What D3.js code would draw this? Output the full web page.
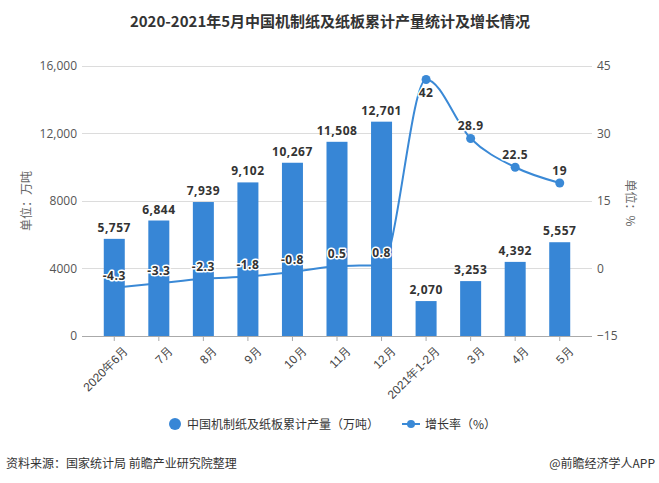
<!DOCTYPE html>
<html><head><meta charset="utf-8">
<script src="https://cdn.jsdelivr.net/npm/d3@7"></script>
<style>
html,body{margin:0;padding:0;background:#fff;}
svg{display:block;font-family:"Noto Sans CJK SC","Noto Sans",sans-serif;}
</style></head>
<body>
<svg id="chart" width="659" height="483"></svg>
<script>
const categories = ["2020年6月","7月","8月","9月","10月","11月","12月","2021年1-2月","3月","4月","5月"];
const production = [5757,6844,7939,9102,10267,11508,12701,2070,3253,4392,5557];
const growth = [-4.3,-3.3,-2.3,-1.8,-0.8,0.5,0.8,42,28.9,22.5,19];
const leftTicks = [0,4000,8000,12000,16000];
const leftTickLabels = ["0","4000","8000","12,000","16,000"];
const rightTicks = [-15,0,15,30,45];
const growthLabelBelow = [false,false,false,false,false,false,false,true,false,false,false];

const title = "2020-2021年5月中国机制纸及纸板累计产量统计及增长情况";
const seriesNames = ["中国机制纸及纸板累计产量（万吨）","增长率（%）"];
const source = "资料来源：国家统计局 前瞻产业研究院整理";
const credit = "@前瞻经济学人APP";

const barColor = "#3786d6", lineColor = "#3a89d6";
const svg = d3.select("#chart");
const L = 82, R = 592, T = 66, B = 336;

const x = d3.scaleBand().domain(categories).range([L+10, R-10]);
const yL = d3.scaleLinear().domain([0,16000]).range([B,T]);
const yR = d3.scaleLinear().domain([-15,45]).range([B,T]);

// title
svg.append("text").attr("x",330).attr("y",27).attr("text-anchor","middle")
  .attr("font-size",15).attr("font-weight","bold").attr("fill","#333").text(title);

// gridlines
svg.append("g").selectAll("line").data(leftTicks.slice(1)).join("line")
  .attr("x1",L).attr("x2",R).attr("y1",d=>yL(d)).attr("y2",d=>yL(d))
  .attr("stroke","#dcdcdc").attr("stroke-width",1).attr("shape-rendering","crispEdges");

// left axis
const gl = svg.append("g").attr("transform",`translate(${L},0)`)
  .call(d3.axisLeft(yL).tickValues(leftTicks).tickSize(0).tickPadding(5)
    .tickFormat((d,i)=>leftTickLabels[i]));
gl.select(".domain").remove();
gl.selectAll("text").attr("font-size",12).attr("fill","#555").style("font-family","'Open Sans','Noto Sans',sans-serif");

// right axis
const gr = svg.append("g").attr("transform",`translate(${R},0)`)
  .call(d3.axisRight(yR).tickValues(rightTicks).tickSize(0).tickPadding(5));
gr.select(".domain").remove();
gr.selectAll("text").attr("font-size",12).attr("fill","#555").style("font-family","'Open Sans','Noto Sans',sans-serif");

// axis titles
svg.append("text").attr("transform","translate(31,201) rotate(-90)").attr("text-anchor","middle")
  .attr("font-size",12).attr("fill","#666").text("单位：万吨");
svg.append("text").attr("transform","translate(626,203) rotate(90)").attr("text-anchor","middle")
  .attr("font-size",12).attr("fill","#666").text("单位：%");

// line (behind bars)
const cx = d => x(d) + x.bandwidth()/2;
const line = d3.line().x((d,i)=>cx(categories[i])).y(d=>yR(d)).curve(d3.curveMonotoneX);
svg.append("path").datum(growth).attr("d",line).attr("fill","none")
  .attr("stroke",lineColor).attr("stroke-width",2);
svg.append("g").selectAll("circle").data(growth).join("circle")
  .attr("cx",(d,i)=>cx(categories[i])).attr("cy",d=>yR(d)).attr("r",4.5)
  .attr("fill",lineColor);

// bars
const bw = 21;
svg.append("g").selectAll("rect").data(production).join("rect")
  .attr("x",(d,i)=>cx(categories[i])-bw/2).attr("width",bw)
  .attr("y",d=>yL(d)).attr("height",d=>B-yL(d)).attr("fill",barColor);

// x axis
const gx = svg.append("g").attr("transform",`translate(0,${B})`)
  .call(d3.axisBottom(x).tickSize(5).tickPadding(3));
gx.select(".domain").attr("d",`M${L},0.5H${R}`).attr("stroke","#aaa");
gx.selectAll(".tick line").attr("stroke","#aaa");
gx.selectAll("text").attr("font-size",12).attr("fill","#444")
  .attr("text-anchor","end").attr("transform","translate(3,4) rotate(-45)")
  .attr("dy","0.7em");

// bar labels
svg.append("g").selectAll("text").data(production).join("text")
  .attr("x",(d,i)=>cx(categories[i])).attr("y",d=>yL(d)-7).attr("text-anchor","middle")
  .attr("font-size",12).attr("font-weight","bold").attr("fill","#333")
  .style("font-family","'Open Sans','Noto Sans',sans-serif").style("letter-spacing","0.5px")
  .text(d=>d3.format(",")(d));

// growth labels with white halo
svg.append("g").selectAll("text").data(growth).join("text")
  .attr("x",(d,i)=>cx(categories[i])).attr("y",(d,i)=>growthLabelBelow[i]? yR(d)+17 : yR(d)-8)
  .attr("text-anchor","middle").attr("font-size",12).attr("font-weight","bold").attr("fill","#333")
  .style("font-family","'Open Sans','Noto Sans',sans-serif").style("letter-spacing","0.5px")
  .attr("stroke","#fff").attr("stroke-width",3).attr("paint-order","stroke").attr("stroke-linejoin","round")
  .text(d=>d);

// legend
const lg = svg.append("g");
lg.append("circle").attr("cx",175).attr("cy",424).attr("r",6).attr("fill",barColor);
lg.append("text").attr("x",187).attr("y",428.5).attr("font-size",12).attr("fill","#333").text(seriesNames[0]);
lg.append("line").attr("x1",402).attr("x2",420).attr("y1",424).attr("y2",424).attr("stroke",lineColor).attr("stroke-width",2);
lg.append("circle").attr("cx",411).attr("cy",424).attr("r",4).attr("fill",lineColor);
lg.append("text").attr("x",425).attr("y",428.5).attr("font-size",12).attr("fill","#333").text(seriesNames[1]);

// footer
svg.append("text").attr("x",6).attr("y",468).attr("font-size",12).attr("fill","#333").text(source);
svg.append("text").attr("x",655).attr("y",468).attr("text-anchor","end").attr("font-size",12).attr("fill","#333").text(credit);
</script>
</body></html>
